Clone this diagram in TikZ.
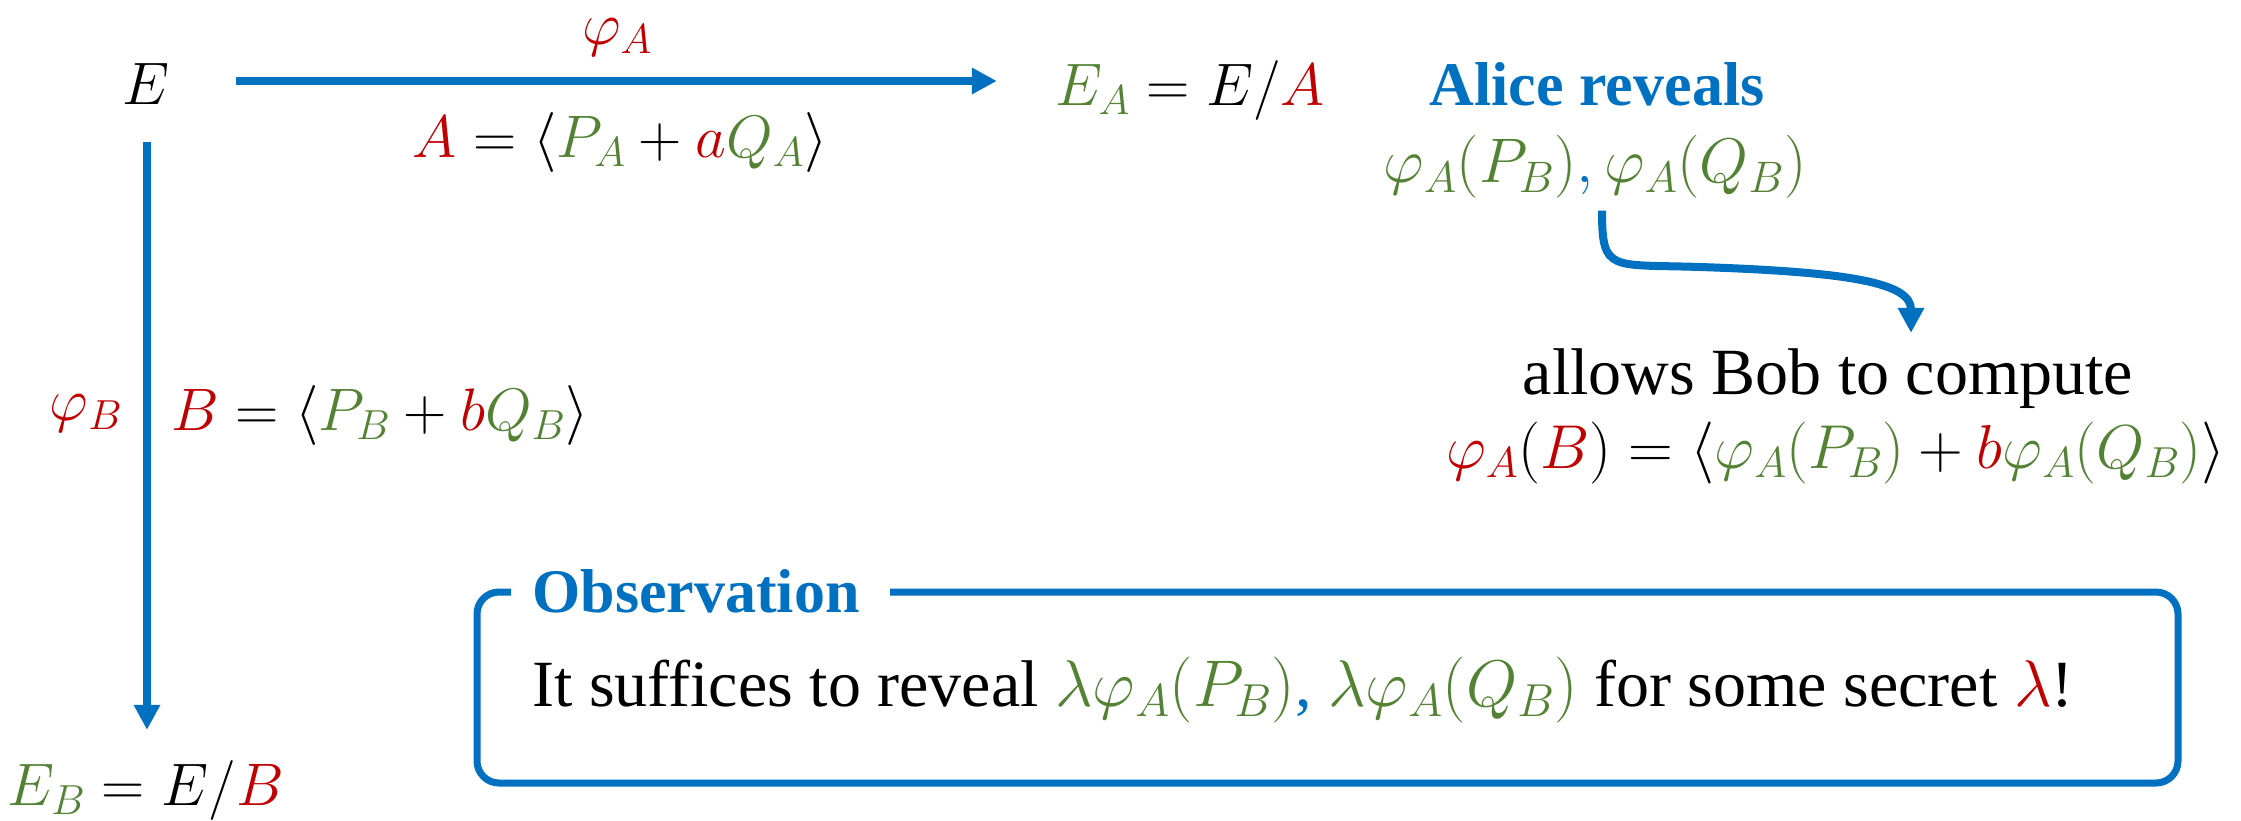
\RequirePackage{fix-cm}
\documentclass[tikz,border=0pt]{standalone}
\usepackage{fontspec}
\setmainfont{Liberation Serif}
\usetikzlibrary{arrows.meta}
\definecolor{cblue}{HTML}{0070C0}
\definecolor{cred}{HTML}{C00000}
\definecolor{cgreen}{HTML}{548235}
\newcommand{\rd}[1]{\textcolor{cred}{#1}}
\newcommand{\gr}[1]{\textcolor{cgreen}{#1}}
\newcommand{\bl}[1]{\textcolor{cblue}{#1}}
\begin{document}
\begin{tikzpicture}[x=1pt,y=-1pt,
  mathlbl/.style={inner sep=0pt, font=\fontsize{60}{72}\selectfont},
  txtlbl/.style={inner sep=0pt, font=\fontsize{66}{78}\selectfont},
  titlelbl/.style={inner sep=0pt, text=cblue, font=\fontsize{62}{74}\selectfont\bfseries},
  conn/.style={draw=cblue, line width=8pt, -{Triangle[length=25pt,width=25pt]}},
  frame/.style={draw=cblue, line width=7pt, rounded corners=22pt}]
\useasboundingbox (0,0) rectangle (2241,820);
% nodes
\node[mathlbl] (E) at (146,84) {$E$};
\node[mathlbl] (EA) at (1190,90) {$\gr{E_A} = E/\rd{A}$};
\node[mathlbl] (EB) at (146,790) {$\gr{E_B} = E/\rd{B}$};
\node[mathlbl] (phiA) at (617,37) {$\rd{\varphi_A}$};
\node[mathlbl] (Aexpr) at (620,142) {$\rd{A} = \langle \gr{P_A} + \rd{a}\gr{Q_A}\rangle$};
\node[mathlbl] (phiB) at (86,413) {$\rd{\varphi_B}$};
\node[mathlbl] (Bexpr) at (380,415) {$\rd{B} = \langle \gr{P_B} + \rd{b}\gr{Q_B}\rangle$};
\node[titlelbl] (alice) at (1597,84) {Alice reveals};
\node[mathlbl, font=\fontsize{63}{75}\selectfont] (rev) at (1595,167) {$\gr{\varphi_A(P_B)}\bl{,}\,\gr{\varphi_A(Q_B)}$};
\node[txtlbl] (allows) at (1828,379) {allows Bob to compute};
\node[mathlbl, font=\fontsize{62}{74}\selectfont] (phiAB) at (1836,453) {$\rd{\varphi_A}(\rd{B}) = \langle \gr{\varphi_A(P_B)} + \rd{b}\gr{\varphi_A(Q_B)}\rangle$};
% connectors
\draw[conn, shorten <=66pt, shorten >=58pt] ([yshift=3pt]E.east) -- ([yshift=3pt]E.east -| EA.west);
\draw[conn, shorten <=37pt, shorten >=30pt] ([xshift=1pt]E.south) -- ([xshift=1pt]E.south |- EB.north);
\coordinate (cs) at ([shift={(7,12)}]rev.south);
\coordinate (ce) at ([shift={(83,-16)}]allows.north);
\draw[conn] (cs) .. controls +(0,62) and +(-90,-3) .. (1700,267) .. controls +(150,5) and +(0,-50) .. (ce);
% observation box
\draw[frame] (511,592) -- (477,592) -- (477,783) -- (2178,783) -- (2178,592) -- (890,592);
\node[titlelbl] (obst) at (696,591) {Observation};
\node[txtlbl] (obsbody) at (1303,690) {It suffices to reveal \gr{$\lambda\varphi_A(P_B)$}\bl{,} \gr{$\lambda\varphi_A(Q_B)$} for some secret \rd{$\lambda$}!};
\end{tikzpicture}
\end{document}
